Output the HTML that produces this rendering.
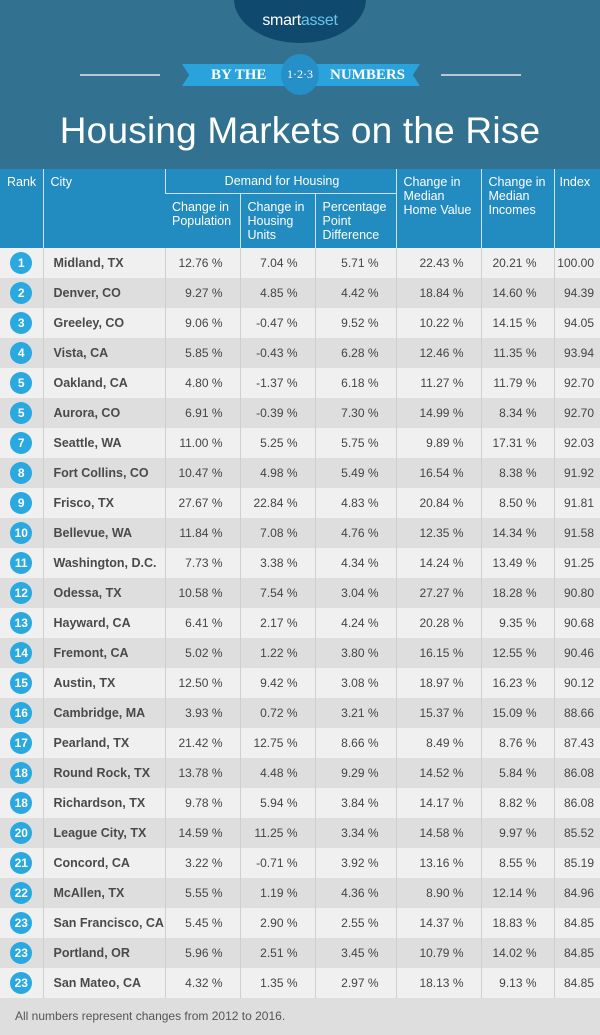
<!DOCTYPE html>
<html><head><meta charset="utf-8"><style>
body{margin:0;width:600px;height:1035px;overflow:hidden;font-family:"Liberation Sans",sans-serif;background:#dedede}
.hdr{position:absolute;left:0;top:0;width:600px;height:169px;background:#32718f}
.oval{position:absolute;left:234px;top:-45px;width:132px;height:88px;border-radius:50%;background:#0f4a6e}
.logo{position:absolute;left:0;width:600px;top:12px;text-align:center;color:#fff;font-size:16px;letter-spacing:-0.3px}
.line{position:absolute;top:74px;height:2px;background:#b7c9d3;width:80px}
.rib{position:absolute;left:182px;top:64px;width:238px;height:22px;background:#2aa3dc;clip-path:polygon(0 0,100% 0,97% 50%,100% 100%,0 100%,3% 50%)}
.rib span{position:absolute;top:3px;color:#fff;font-family:"Liberation Serif",serif;font-weight:bold;font-size:15px}
.circ{position:absolute;left:281px;top:54px;width:38px;height:41px;border-radius:50%;background:#2590c7;color:#fff;font-family:"Liberation Serif",serif;font-size:12px;text-align:center;line-height:41px}
.title{position:absolute;left:0;width:600px;top:110px;text-align:center;color:#fff;font-size:37px;font-weight:normal;letter-spacing:0.2px}
table{position:absolute;left:0;top:169px;border-collapse:collapse;width:600px;table-layout:fixed}
th{background:#228bbf;color:#fff;font-weight:normal;font-size:12.5px;text-align:left;vertical-align:top;border-left:1px solid #cfe3ee;padding:6px 4px 0 7px;line-height:14px}
th:first-child{border-left:none}
td{height:30px;padding:0 17px 0 0;font-size:12px;color:#444;text-align:right;border-left:1px solid #cfcfcf;box-sizing:border-box;white-space:nowrap}
td:first-child{border-left:none;padding:0;text-align:center}
td.c{text-align:left;padding-left:10px;font-weight:bold;color:#4a4a4a;font-size:12.5px}
td.i{padding-right:6px}
tr:nth-child(odd) td{background:#f0f0f0}
tr:nth-child(even) td{background:#dedede}
.b{display:inline-block;width:22px;height:22px;border-radius:50%;background:#2aa8e0;color:#fff;font-weight:bold;font-size:12px;line-height:22px;vertical-align:middle}
.foot{position:absolute;left:15px;top:1009px;font-size:12px;color:#555}
</style></head><body>
<div class="hdr">
<div class="oval"></div><div class="logo">smart<span style="color:#6cc4ec">asset</span></div>
<div class="line" style="left:80px"></div><div class="line" style="left:441px"></div>
<div class="rib"><span style="left:29px">BY THE</span><span style="left:148px">NUMBERS</span></div>
<div class="circ">1·2·3</div>
<div class="title">Housing Markets on the Rise</div>
</div>
<table>
<colgroup><col style="width:43px"><col style="width:122px"><col style="width:75px"><col style="width:75px"><col style="width:81px"><col style="width:85px"><col style="width:73px"><col style="width:46px"></colgroup>
<thead>
<tr><th rowspan="2" style="height:73px">Rank</th><th rowspan="2">City</th><th colspan="3" style="text-align:center;height:19px;border-bottom:1px solid #cfe3ee;padding-top:5px">Demand for Housing</th><th rowspan="2">Change in Median Home Value</th><th rowspan="2">Change in Median Incomes</th><th rowspan="2" style="padding-left:5px">Index</th></tr>
<tr><th style="height:48px">Change in Population</th><th>Change in Housing Units</th><th>Percentage Point Difference</th></tr>
</thead>
<tbody>
<tr><td><span class="b">1</span></td><td class="c">Midland, TX</td><td>12.76 %</td><td>7.04 %</td><td>5.71 %</td><td>22.43 %</td><td>20.21 %</td><td class="i">100.00</td></tr>
<tr><td><span class="b">2</span></td><td class="c">Denver, CO</td><td>9.27 %</td><td>4.85 %</td><td>4.42 %</td><td>18.84 %</td><td>14.60 %</td><td class="i">94.39</td></tr>
<tr><td><span class="b">3</span></td><td class="c">Greeley, CO</td><td>9.06 %</td><td>-0.47 %</td><td>9.52 %</td><td>10.22 %</td><td>14.15 %</td><td class="i">94.05</td></tr>
<tr><td><span class="b">4</span></td><td class="c">Vista, CA</td><td>5.85 %</td><td>-0.43 %</td><td>6.28 %</td><td>12.46 %</td><td>11.35 %</td><td class="i">93.94</td></tr>
<tr><td><span class="b">5</span></td><td class="c">Oakland, CA</td><td>4.80 %</td><td>-1.37 %</td><td>6.18 %</td><td>11.27 %</td><td>11.79 %</td><td class="i">92.70</td></tr>
<tr><td><span class="b">5</span></td><td class="c">Aurora, CO</td><td>6.91 %</td><td>-0.39 %</td><td>7.30 %</td><td>14.99 %</td><td>8.34 %</td><td class="i">92.70</td></tr>
<tr><td><span class="b">7</span></td><td class="c">Seattle, WA</td><td>11.00 %</td><td>5.25 %</td><td>5.75 %</td><td>9.89 %</td><td>17.31 %</td><td class="i">92.03</td></tr>
<tr><td><span class="b">8</span></td><td class="c">Fort Collins, CO</td><td>10.47 %</td><td>4.98 %</td><td>5.49 %</td><td>16.54 %</td><td>8.38 %</td><td class="i">91.92</td></tr>
<tr><td><span class="b">9</span></td><td class="c">Frisco, TX</td><td>27.67 %</td><td>22.84 %</td><td>4.83 %</td><td>20.84 %</td><td>8.50 %</td><td class="i">91.81</td></tr>
<tr><td><span class="b">10</span></td><td class="c">Bellevue, WA</td><td>11.84 %</td><td>7.08 %</td><td>4.76 %</td><td>12.35 %</td><td>14.34 %</td><td class="i">91.58</td></tr>
<tr><td><span class="b">11</span></td><td class="c">Washington, D.C.</td><td>7.73 %</td><td>3.38 %</td><td>4.34 %</td><td>14.24 %</td><td>13.49 %</td><td class="i">91.25</td></tr>
<tr><td><span class="b">12</span></td><td class="c">Odessa, TX</td><td>10.58 %</td><td>7.54 %</td><td>3.04 %</td><td>27.27 %</td><td>18.28 %</td><td class="i">90.80</td></tr>
<tr><td><span class="b">13</span></td><td class="c">Hayward, CA</td><td>6.41 %</td><td>2.17 %</td><td>4.24 %</td><td>20.28 %</td><td>9.35 %</td><td class="i">90.68</td></tr>
<tr><td><span class="b">14</span></td><td class="c">Fremont, CA</td><td>5.02 %</td><td>1.22 %</td><td>3.80 %</td><td>16.15 %</td><td>12.55 %</td><td class="i">90.46</td></tr>
<tr><td><span class="b">15</span></td><td class="c">Austin, TX</td><td>12.50 %</td><td>9.42 %</td><td>3.08 %</td><td>18.97 %</td><td>16.23 %</td><td class="i">90.12</td></tr>
<tr><td><span class="b">16</span></td><td class="c">Cambridge, MA</td><td>3.93 %</td><td>0.72 %</td><td>3.21 %</td><td>15.37 %</td><td>15.09 %</td><td class="i">88.66</td></tr>
<tr><td><span class="b">17</span></td><td class="c">Pearland, TX</td><td>21.42 %</td><td>12.75 %</td><td>8.66 %</td><td>8.49 %</td><td>8.76 %</td><td class="i">87.43</td></tr>
<tr><td><span class="b">18</span></td><td class="c">Round Rock, TX</td><td>13.78 %</td><td>4.48 %</td><td>9.29 %</td><td>14.52 %</td><td>5.84 %</td><td class="i">86.08</td></tr>
<tr><td><span class="b">18</span></td><td class="c">Richardson, TX</td><td>9.78 %</td><td>5.94 %</td><td>3.84 %</td><td>14.17 %</td><td>8.82 %</td><td class="i">86.08</td></tr>
<tr><td><span class="b">20</span></td><td class="c">League City, TX</td><td>14.59 %</td><td>11.25 %</td><td>3.34 %</td><td>14.58 %</td><td>9.97 %</td><td class="i">85.52</td></tr>
<tr><td><span class="b">21</span></td><td class="c">Concord, CA</td><td>3.22 %</td><td>-0.71 %</td><td>3.92 %</td><td>13.16 %</td><td>8.55 %</td><td class="i">85.19</td></tr>
<tr><td><span class="b">22</span></td><td class="c">McAllen, TX</td><td>5.55 %</td><td>1.19 %</td><td>4.36 %</td><td>8.90 %</td><td>12.14 %</td><td class="i">84.96</td></tr>
<tr><td><span class="b">23</span></td><td class="c">San Francisco, CA</td><td>5.45 %</td><td>2.90 %</td><td>2.55 %</td><td>14.37 %</td><td>18.83 %</td><td class="i">84.85</td></tr>
<tr><td><span class="b">23</span></td><td class="c">Portland, OR</td><td>5.96 %</td><td>2.51 %</td><td>3.45 %</td><td>10.79 %</td><td>14.02 %</td><td class="i">84.85</td></tr>
<tr><td><span class="b">23</span></td><td class="c">San Mateo, CA</td><td>4.32 %</td><td>1.35 %</td><td>2.97 %</td><td>18.13 %</td><td>9.13 %</td><td class="i">84.85</td></tr>
</tbody></table>
<div class="foot">All numbers represent changes from 2012 to 2016.</div>
</body></html>
